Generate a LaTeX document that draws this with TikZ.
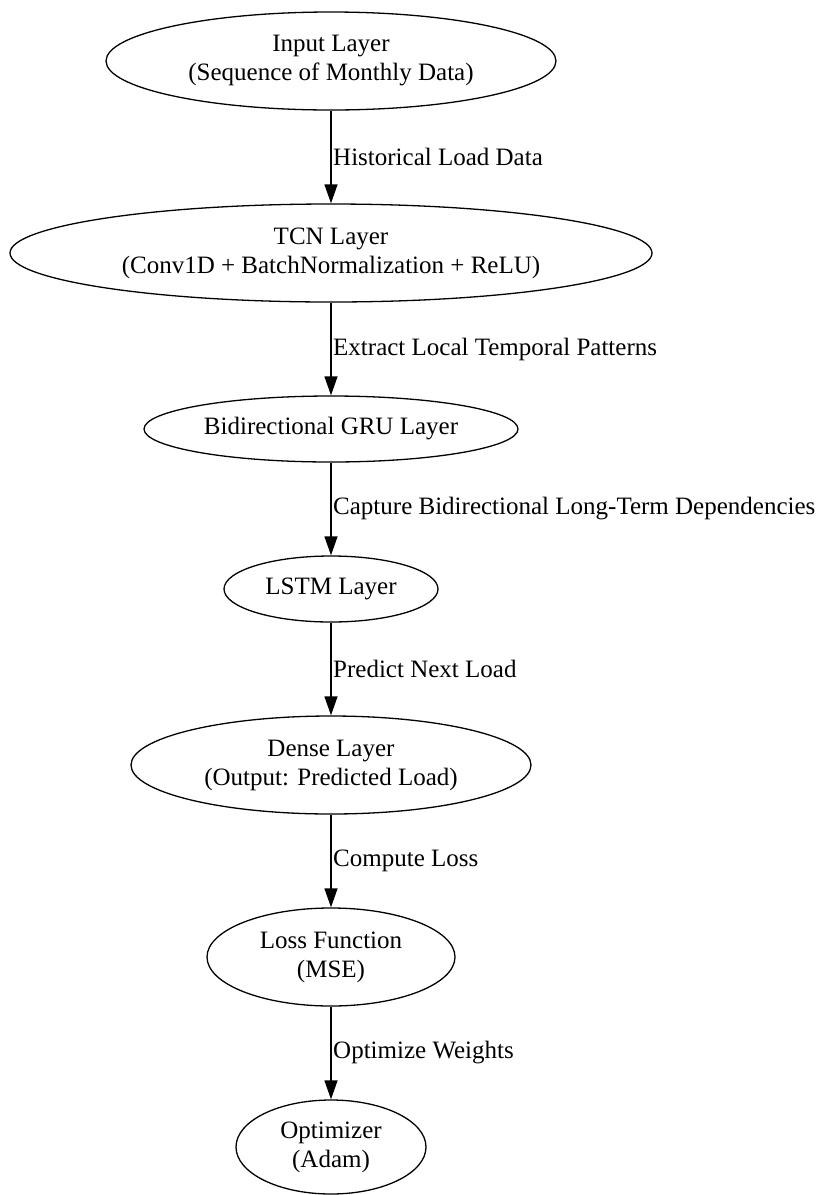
\documentclass[tikz,border=0pt]{standalone}
\usepackage{fontspec}
\setmainfont{Liberation Serif}
\usetikzlibrary{shapes.geometric,arrows.meta}
\tikzset{
  layer/.style={draw, ellipse, line width=1.3pt, inner sep=0pt, align=center,
    font=\fontsize{25}{29}\selectfont},
  flow/.style={line width=1.3pt, -{Triangle[length=19pt,width=13pt]}},
  elabel/.style={anchor=west, inner sep=0pt, font=\fontsize{25}{29}\selectfont}
}
\begin{document}
\begin{tikzpicture}[x=1pt,y=-1pt]
\useasboundingbox (0,0) rectangle (816,1195);
\node[layer, minimum width=450pt, minimum height=98pt] (inp) at (331,61) {Input Layer\\(Sequence of Monthly Data)};
\node[layer, minimum width=642pt, minimum height=98pt] (tcn) at (331,253) {TCN Layer\\(Conv1D + BatchNormalization + ReLU)};
\node[layer, minimum width=374pt, minimum height=66pt] (gru) at (331,429) {Bidirectional GRU Layer};
\node[layer, minimum width=214pt, minimum height=66pt] (lstm) at (331,589) {LSTM Layer};
\node[layer, minimum width=400pt, minimum height=98pt] (dense) at (331,765) {Dense Layer\\(Output: Predicted Load)};
\node[layer, minimum width=248pt, minimum height=98pt] (loss) at (331,957) {Loss Function\\(MSE)};
\node[layer, minimum width=190pt, minimum height=94pt] (opt) at (331,1147) {Optimizer\\(Adam)};

\draw[flow] (inp.south) -- (tcn.north);
\draw[flow] (tcn.south) -- (gru.north);
\draw[flow] (gru.south) -- (lstm.north);
\draw[flow] (lstm.south) -- (dense.north);
\draw[flow] (dense.south) -- (loss.north);
\draw[flow] (loss.south) -- (opt.north);

\node[elabel] (l1) at (333,157) {Historical Load Data};
\node[elabel] (l2) at (333,349) {Extract Local Temporal Patterns};
\node[elabel] (l3) at (333,509) {Capture Bidirectional Long-Term Dependencies};
\node[elabel] (l4) at (333,669) {Predict Next Load};
\node[elabel] (l5) at (333,861) {Compute Loss};
\node[elabel] (l6) at (333,1053) {Optimize Weights};
\end{tikzpicture}
\end{document}
